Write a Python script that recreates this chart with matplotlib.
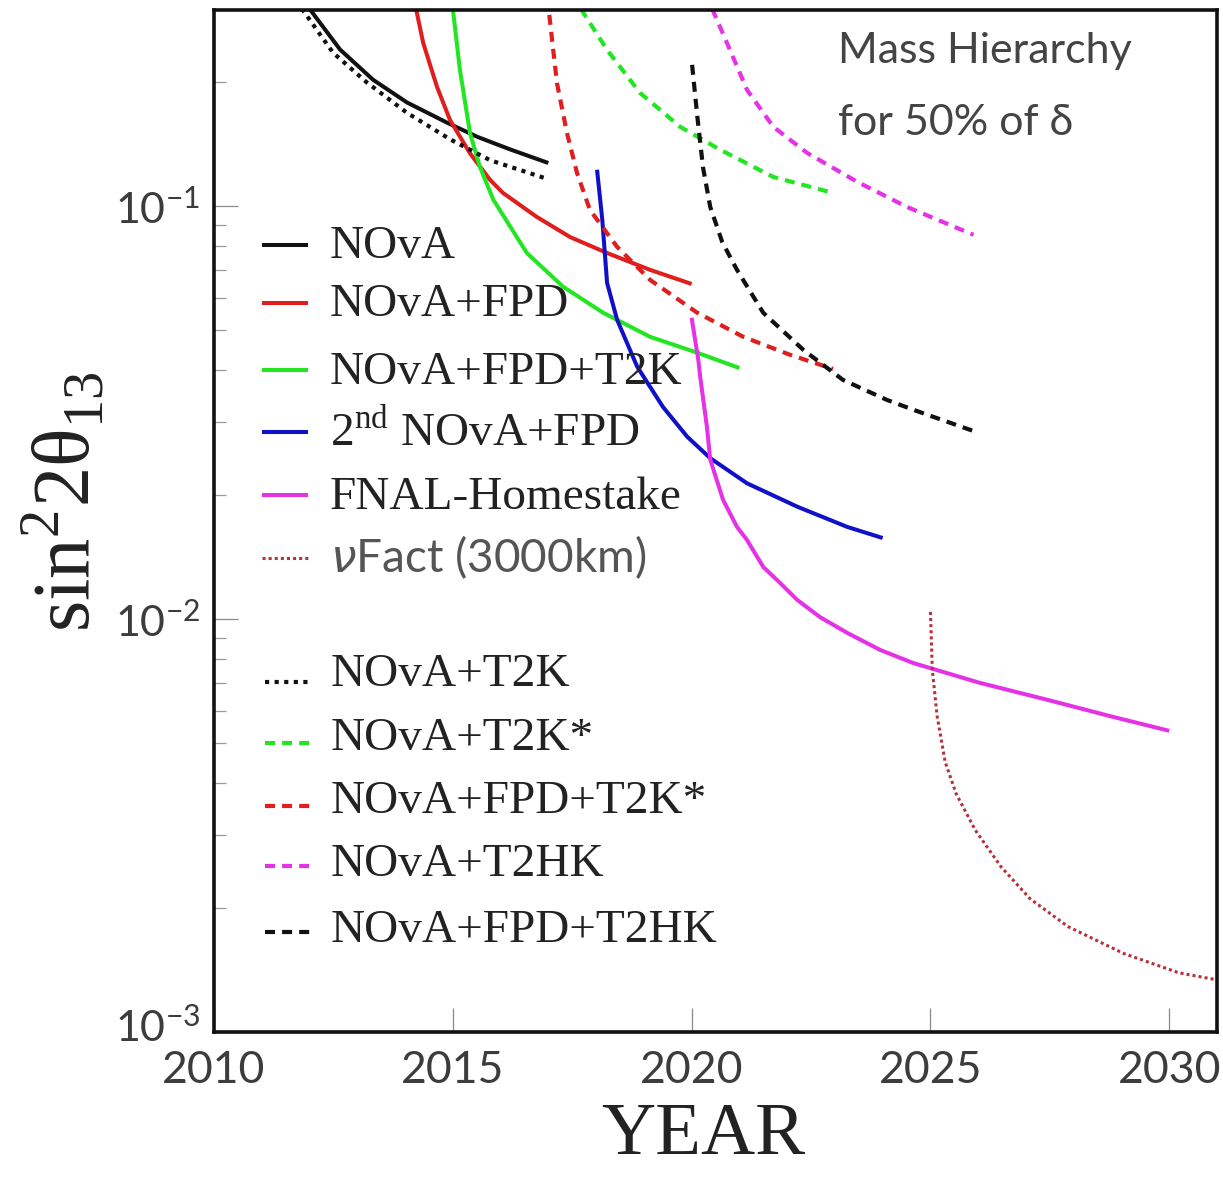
import matplotlib
matplotlib.use('Agg')
import matplotlib.pyplot as plt
from matplotlib.lines import Line2D
from matplotlib.ticker import LogLocator, NullFormatter, NullLocator
from matplotlib.transforms import ScaledTranslation

# ---------------- data ----------------
nova_yr = [2012.0, 2012.64, 2013.33, 2014.04, 2014.88, 2015.51, 2016.2, 2017.0]
nova_val = [0.300, 0.239, 0.202, 0.178, 0.159, 0.147, 0.137, 0.127]

nova_t2k_yr = [2011.84, 2012.49, 2013.2, 2014.04, 2014.94, 2015.78, 2017.0]
nova_t2k_val = [0.300, 0.235, 0.199, 0.168, 0.145, 0.129, 0.116]

fpd_yr = [2014.23, 2014.38, 2014.67, 2014.94, 2015.36, 2015.78, 2016.05, 2016.76, 2017.46, 2018.23, 2019.13, 2020.0]
fpd_val = [0.300, 0.248, 0.194, 0.1615, 0.134, 0.1156, 0.1075, 0.094, 0.084, 0.0769, 0.070, 0.0647]

fpd_t2k_yr = [2015.0, 2015.15, 2015.36, 2015.57, 2015.85, 2016.55, 2017.31, 2018.15, 2019.13, 2020.12, 2021.0]
fpd_t2k_val = [0.300, 0.213, 0.150, 0.124, 0.1034, 0.0769, 0.0637, 0.0551, 0.0482, 0.0441, 0.0405]

second_yr = [2018.02, 2018.13, 2018.23, 2018.44, 2018.86, 2019.40, 2019.91, 2020.39, 2021.16, 2022.21, 2023.26, 2024.0]
second_val = [0.1223, 0.0925, 0.0651, 0.0530, 0.0408, 0.0326, 0.0276, 0.0245, 0.0213, 0.0187, 0.0167, 0.0157]

homestake_yr = [2020.0, 2020.14, 2020.18, 2020.32, 2020.39, 2020.66, 2020.95, 2021.16, 2021.5, 2021.85,
                2022.21, 2022.69, 2023.26, 2023.95, 2024.64, 2026.04, 2027.45, 2028.83, 2030.0]
homestake_val = [0.0536, 0.0424, 0.0385, 0.0292, 0.0243, 0.0194, 0.0167, 0.01553, 0.01336, 0.01223,
                 0.01112, 0.0101, 0.00925, 0.00841, 0.00782, 0.0070, 0.00637, 0.00579, 0.00536]

nufact_yr = [2025.0, 2025.04, 2025.14, 2025.31, 2025.54, 2025.94, 2026.48, 2027.09, 2027.88, 2029.04, 2030.21, 2030.96]
nufact_val = [0.0104, 0.00752, 0.00582, 0.0045, 0.00377, 0.00308, 0.00251, 0.0021, 0.0018, 0.00155, 0.00139, 0.00134]

t2kstar_yr = [2017.68, 2018.23, 2018.92, 2019.76, 2020.6, 2021.71, 2022.96]
t2kstar_val = [0.300, 0.2386, 0.1877, 0.1554, 0.1367, 0.1175, 0.1075]

fpd_t2kstar_yr = [2017.02, 2017.18, 2017.39, 2017.6, 2017.87, 2018.44, 2019.13, 2020.12, 2021.08, 2022.06, 2022.96]
fpd_t2kstar_val = [0.290, 0.1985, 0.1502, 0.1202, 0.0978, 0.0796, 0.0662, 0.0551, 0.0482, 0.0436, 0.0403]

t2hk_yr = [2020.43, 2020.74, 2021.16, 2021.71, 2022.42, 2023.47, 2024.51, 2025.9]
t2hk_val = [0.300, 0.248, 0.1909, 0.1554, 0.1343, 0.1143, 0.0994, 0.0851]

fpd_t2hk_yr = [2020.01, 2020.12, 2020.24, 2020.39, 2020.64, 2020.95, 2021.5, 2022.34, 2023.17, 2024.09, 2024.64, 2025.94]
fpd_t2hk_val = [0.2195, 0.1643, 0.1236, 0.0994, 0.0818, 0.070, 0.0551, 0.0448, 0.0379, 0.0339, 0.0321, 0.0284]

xtick_vals = [2010, 2015, 2020, 2025, 2030]
xtick_labels = ['2010', '2015', '2020', '2025', '2030']
ytick_vals = [1e-3, 1e-2, 1e-1]
ytick_labels = [r'$\mathregular{10^{-3}}$', r'$\mathregular{10^{-2}}$', r'$\mathregular{10^{-1}}$']

labels_top = ['NOvA', 'NOvA+FPD', 'NOvA+FPD+T2K', r'2$^{\mathregular{nd}}$ NOvA+FPD',
              'FNAL-Homestake', r'$\nu$Fact (3000km)']
labels_bottom = ['NOvA+T2K', 'NOvA+T2K*', 'NOvA+FPD+T2K*', 'NOvA+T2HK', 'NOvA+FPD+T2HK']

# ---------------- styles ----------------
RED = '#e01e1e'
GREEN = '#22e622'
BLUE = '#1010c8'
MAG = '#e632e6'
DRED = '#b4323c'
BLK = '#111111'

solid = dict(lw=2.9, ls='-', solid_capstyle='butt', solid_joinstyle='round')
dashed = dict(lw=3.0, ls=(0, (2.4, 1.7)), dash_capstyle='butt')
dotted = dict(lw=3.0, ls=(0, (1.0, 1.3)), dash_capstyle='butt')
fine_dot = dict(lw=2.2, ls=(0, (1.0, 1.0)), dash_capstyle='butt')

series_top = [
    (nova_yr, nova_val, BLK, solid),
    (fpd_yr, fpd_val, RED, solid),
    (fpd_t2k_yr, fpd_t2k_val, GREEN, solid),
    (second_yr, second_val, BLUE, solid),
    (homestake_yr, homestake_val, MAG, solid),
    (nufact_yr, nufact_val, DRED, fine_dot),
]
series_bottom = [
    (nova_t2k_yr, nova_t2k_val, BLK, dotted),
    (t2kstar_yr, t2kstar_val, GREEN, dashed),
    (fpd_t2kstar_yr, fpd_t2kstar_val, RED, dashed),
    (t2hk_yr, t2hk_val, MAG, dashed),
    (fpd_t2hk_yr, fpd_t2hk_val, BLK, dashed),
]

plt.rcParams['mathtext.fontset'] = 'custom'
plt.rcParams['mathtext.rm'] = 'Lato'
plt.rcParams['mathtext.it'] = 'DejaVu Sans:italic'
plt.rcParams['font.family'] = ['Lato', 'DejaVu Sans']

W, H = 1223, 1178
fig = plt.figure(figsize=(W / 100, H / 100), dpi=100)
L, R, T, B = 214, 1217, 10, 1032
ax = fig.add_axes([L / W, 1 - B / H, (R - L) / W, (B - T) / H])
ax.set_yscale('log')
ax.set_xlim(2010, 2031.0)
ax.set_ylim(1e-3, 0.298)

for yr, val, col, st in series_top + series_bottom:
    ax.plot(yr, val, color=col, **st)

for s in ax.spines.values():
    s.set_linewidth(2.6)
    s.set_color('#111111')

ax.set_xticks(xtick_vals)
ax.set_xticklabels(xtick_labels)
ax.set_yticks(ytick_vals)
ax.set_yticklabels(ytick_labels)
ax.xaxis.set_minor_locator(NullLocator())
ax.yaxis.set_minor_locator(LogLocator(base=10, subs=[2, 3, 4, 5, 6, 7, 8, 9]))
ax.yaxis.set_minor_formatter(NullFormatter())
ax.tick_params(axis='both', which='major', direction='in', length=17, width=0.9,
               color='#8a8a8a', labelcolor='#3c3c3c',
               labelfontfamily='Lato', top=False, right=False)
ax.tick_params(axis='x', which='major', pad=13, labelsize=32)
ax.tick_params(axis='y', which='major', pad=10, labelsize=31)
ax.tick_params(axis='y', which='minor', direction='in', length=8.5, width=0.9,
               color='#9a9a9a', right=False)
# lift the lowest y label a few pixels so it does not collide with the first year label
low_lab = ax.yaxis.get_major_ticks()[0].label1
low_lab.set_transform(low_lab.get_transform() + ScaledTranslation(0, 8 / 100, fig.dpi_scale_trans))

# ---------------- legend (manual layout) ----------------
def fx(px):
    return (px - L) / (R - L)

def fy(py):
    return 1 - (py - T) / (B - T)

serif = 'Liberation Serif'
top_base = [258, 316, 384, 446, 509, 572]
top_line = [245, 303, 370, 432, 495, 558]
bot_base = [686, 750, 813, 876, 942]
bot_line = [682, 743, 806, 866, 932]

for i, (lab, (yr, val, col, st)) in enumerate(zip(labels_top, series_top)):
    ax.add_line(Line2D([fx(262), fx(308)], [fy(top_line[i])] * 2, transform=ax.transAxes,
                       color=col, **st))
    if i == 5:
        ax.text(fx(330), fy(top_base[i]), lab, transform=ax.transAxes, fontsize=33,
                family=['Lato', 'DejaVu Sans'], color='#555555', va='baseline', ha='left')
    else:
        ax.text(fx(330), fy(top_base[i]), lab, transform=ax.transAxes, fontsize=34,
                family=serif, color='#222222', va='baseline', ha='left')

for i, (lab, (yr, val, col, st)) in enumerate(zip(labels_bottom, series_bottom)):
    ax.add_line(Line2D([fx(265), fx(310)], [fy(bot_line[i])] * 2, transform=ax.transAxes,
                       color=col, **st))
    ax.text(fx(331), fy(bot_base[i]), lab, transform=ax.transAxes, fontsize=34,
            family=serif, color='#222222', va='baseline', ha='left')

ax.text(fx(838), fy(63), 'Mass Hierarchy', transform=ax.transAxes, fontsize=31,
        family=['Lato', 'DejaVu Sans'], color='#444444', va='baseline', ha='left')
ax.text(fx(838), fy(135), 'for 50% of δ', transform=ax.transAxes, fontsize=31,
        family=['Lato', 'DejaVu Sans'], color='#444444', va='baseline', ha='left')

# ---------------- axis titles ----------------
fig.text(64 / W, 1 - 502 / H, r'sin$^{\mathregular{2}}$2θ$_{\mathregular{13}}$',
         rotation=90, ha='center', va='center', fontsize=58, family=serif, color='#222222')
fig.text(703 / W, 1 - 1136 / H, 'YEAR', ha='center', va='center', fontsize=54,
         family=serif, color='#222222')

fig.savefig('out.png', dpi=100)
